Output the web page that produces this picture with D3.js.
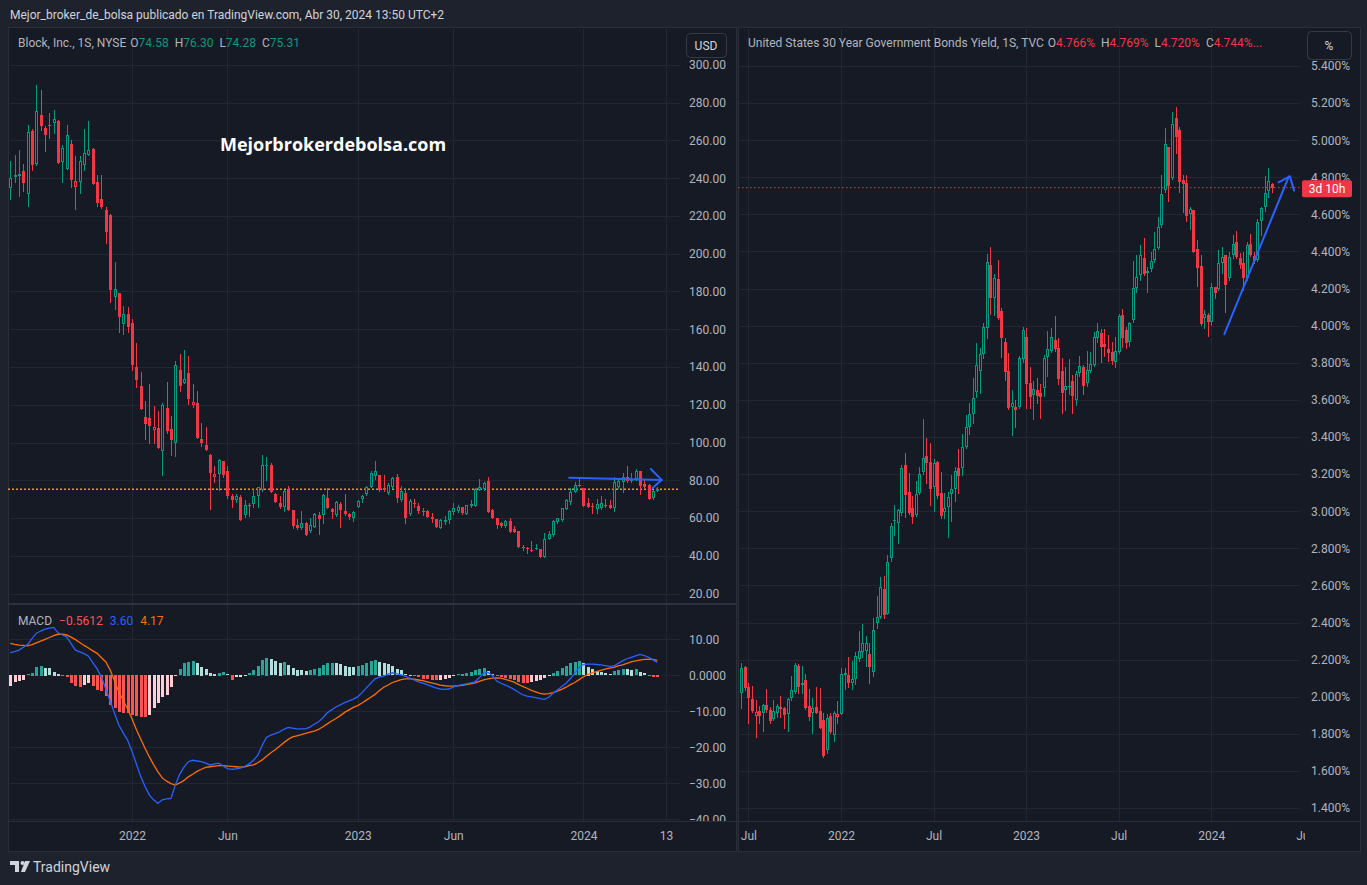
<!DOCTYPE html>
<html>
<head>
<meta charset="utf-8">
<script src="https://cdn.jsdelivr.net/npm/d3@7"></script>
<style>
  html, body { margin: 0; padding: 0; background: #1e222d; }
  svg text { font-family: Roboto, "Noto Sans", sans-serif; }
</style>
</head>
<body>
<script>
// ---- Block, Inc. weekly candles (bar 0 = week of 21 Jun 2021, bar 149 = week of 29 Apr 2024)
var blockOpen = [
  235.0,240.9,241.4,243.9,231.9,265.0,247.6,273.5,266.6,268.0,
  269.5,270.3,248.8,245.1,258.2,235.6,238.2,247.2,252.5,255.5,
  238.0,229.0,223.2,220.6,176.9,179.2,163.0,168.1,163.4,139.9,
  130.0,113.6,113.0,106.9,107.6,95.7,118.3,107.2,100.0,138.5,
  131.7,136.9,119.9,121.0,101.9,98.7,93.5,81.8,83.4,90.3,
  85.0,71.5,69.6,71.4,61.65,66.8,67.5,71.7,74.9,87.6,
  88.1,72.8,67.8,66.1,75.4,64.3,56.35,54.9,57.4,53.2,
  55.5,61.8,61.65,70.65,64.8,61.65,67.5,63.6,62.2,60.2,
  66.1,69.95,72.6,76.7,82.3,82.8,75.8,73.1,76.7,81.95,
  69.6,73.5,62.2,68.2,66.4,63.95,63.8,60.8,59.5,54.9,
  57.8,59.0,63.2,63.95,65.7,62.2,66.6,66.6,74.9,75.4,
  79.7,64.3,59.9,57.2,56.0,58.5,54.06,53.2,44.9,44.2,
  43.3,43.65,43.5,39.6,48.8,51.1,57.8,59.0,65.0,68.4,
  74.0,77.2,76.0,68.0,66.4,64.8,65.2,66.95,66.95,65.2,
  76.7,79.3,81.8,79.7,80.5,85.0,78.1,77.4,70.5,74.58
];
var blockHigh = [
  249.2,252.2,255.0,247.6,268.2,266.1,289.4,286.8,267.7,274.6,
  276.2,270.9,257.6,268.2,260.3,251.8,251.8,266.1,270.3,256.1,
  241.8,241.8,224.8,221.1,195.7,179.2,172.4,171.8,165.5,152.8,
  137.4,122.0,131.0,119.4,116.7,121.0,132.1,114.1,143.2,147.0,
  149.1,145.9,131.0,127.3,110.2,108.3,94.0,87.6,91.5,90.4,
  87.6,73.0,72.5,72.0,69.6,67.8,75.8,76.7,93.4,92.5,
  89.0,73.1,71.7,74.9,77.0,64.3,59.5,63.6,57.95,59.9,
  62.5,63.4,72.8,75.8,65.2,68.9,68.4,72.8,62.9,63.95,
  69.6,72.4,77.0,85.1,90.2,82.8,82.8,78.4,81.95,83.2,
  77.0,76.0,70.3,69.95,67.8,65.2,64.3,62.5,59.5,59.7,
  61.3,64.3,67.8,66.95,66.1,67.1,69.6,75.8,80.5,79.3,
  81.95,64.65,60.2,58.1,59.0,59.9,55.8,53.35,45.8,44.5,
  48.1,46.3,43.8,52.3,53.35,59.0,60.2,65.5,69.95,75.8,
  79.3,81.1,76.0,70.5,67.8,69.95,71.7,69.95,69.6,81.6,
  81.1,84.1,87.6,84.1,85.9,85.0,80.2,77.9,74.9,76.30
];
var blockLow = [
  229.0,238.2,230.8,233.3,225.3,244.4,247.0,265.6,254.5,261.5,
  264.2,247.8,238.2,245.1,235.6,223.6,232.4,244.6,252.5,237.2,
  225.3,224.4,205.7,174.6,170.9,158.8,157.7,158.8,138.6,129.6,
  118.0,102.1,100.0,100.0,97.3,82.8,104.9,93.6,93.1,127.3,
  131.7,120.5,119.0,102.6,97.9,96.3,65.0,79.3,74.9,82.0,
  70.5,66.0,68.5,59.0,60.8,61.3,66.1,66.1,74.5,80.2,
  74.0,68.4,65.5,63.95,64.3,54.9,54.2,54.06,51.1,52.5,
  55.1,51.6,57.6,65.5,60.2,61.1,55.1,61.65,59.5,58.65,
  66.1,68.4,72.1,76.5,80.5,74.5,74.5,72.6,75.8,68.4,
  69.25,57.2,61.65,66.1,62.5,61.65,60.4,58.1,55.5,54.6,
  57.06,57.6,62.4,63.2,62.0,62.0,66.1,66.6,74.9,74.9,
  63.4,59.9,54.9,55.5,55.5,52.8,52.5,44.5,43.1,41.35,
  42.6,43.65,39.2,39.2,48.8,50.7,57.4,58.65,64.8,67.5,
  73.7,77.2,66.6,65.7,62.5,62.5,64.8,66.1,65.2,63.95,
  75.8,74.0,79.3,79.3,80.2,72.8,76.3,69.95,70.1,74.28
];
var blockClose = [
  240.0,241.8,242.3,237.7,264.3,247.0,275.5,267.7,262.9,268.4,
  271.4,247.8,255.9,262.7,239.3,238.4,249.2,253.2,255.0,237.2,
  226.9,224.8,211.7,180.8,181.2,166.7,167.9,161.4,141.1,133.3,
  118.0,110.0,109.0,108.3,97.3,119.7,106.2,101.6,141.1,130.2,
  133.7,123.1,121.5,102.6,99.5,96.3,84.1,83.4,91.0,82.8,
  71.7,69.5,71.5,59.0,66.95,66.4,71.7,76.3,88.1,88.1,
  74.0,68.7,66.1,74.5,64.3,55.8,54.9,57.4,51.1,56.35,
  62.2,59.5,72.25,65.5,63.4,68.4,64.3,62.2,60.6,63.2,
  69.1,71.9,76.7,83.7,85.0,74.9,74.7,77.5,81.4,70.8,
  74.4,60.06,69.1,67.5,63.95,63.2,60.8,59.35,55.5,59.0,
  59.0,63.8,65.2,66.1,62.9,66.95,67.5,75.4,76.7,78.4,
  63.4,60.2,56.35,55.8,58.5,52.8,52.7,44.5,44.0,43.7,
  42.9,44.0,39.6,48.8,51.6,58.5,59.9,65.2,69.6,74.0,
  77.5,77.5,66.6,66.1,65.9,67.65,67.8,66.6,65.5,78.95,
  79.7,81.95,79.8,80.2,85.0,77.2,76.7,70.3,74.5,75.31
];

// ---- MACD (12, 26, 9) on the Block weekly chart
var macdLine = [
  6.3,6.6,7.0,7.8,8.6,10.2,11.7,12.3,12.8,13.1,
  13.3,11.8,11.2,10.7,8.8,7.0,6.5,6.0,5.3,3.5,
  1.8,-0.5,-3.8,-7.2,-10.5,-13.8,-16.0,-18.0,-21.0,-24.5,
  -28.0,-30.8,-33.2,-34.6,-35.6,-34.6,-34.3,-34.2,-30.5,-27.5,
  -25.5,-24.0,-23.6,-23.8,-24.0,-24.4,-24.9,-24.6,-24.4,-25.2,
  -25.9,-26.1,-26.0,-25.8,-25.3,-24.6,-23.6,-22.2,-19.5,-17.2,
  -16.6,-16.2,-15.7,-15.0,-14.5,-14.7,-14.9,-14.9,-14.9,-14.4,
  -13.6,-12.9,-11.8,-10.4,-9.6,-8.8,-8.2,-7.6,-7.1,-6.6,
  -6.0,-4.8,-3.5,-2.2,-1.0,-0.5,-0.2,0.3,0.7,0.4,
  0.1,-0.3,-0.8,-1.3,-1.8,-2.2,-2.6,-3.1,-3.5,-3.8,
  -3.9,-3.8,-3.3,-2.9,-2.6,-2.4,-2.1,-1.8,-0.7,0.6,
  0.8,0.0,-1.6,-2.2,-2.7,-3.3,-3.9,-4.7,-5.4,-5.8,
  -6.0,-6.2,-6.5,-6.7,-6.1,-5.0,-4.1,-3.1,-2.2,-0.9,
  0.6,2.2,3.0,3.1,3.1,3.0,2.9,2.7,2.5,2.6,
  3.3,4.0,4.6,5.0,5.4,5.8,5.5,5.0,4.3,3.60
];
var signalLine = [
  8.9,8.6,8.4,8.3,8.2,8.5,9.0,9.5,10.0,10.5,
  11.0,11.4,11.4,11.2,10.6,9.9,9.1,8.3,7.6,6.8,
  6.1,4.9,3.7,1.5,-1.5,-4.6,-7.0,-9.3,-12.0,-15.0,
  -17.6,-20.2,-22.6,-24.8,-26.8,-28.5,-29.4,-30.1,-30.5,-29.9,
  -29.2,-28.2,-27.5,-26.7,-26.1,-25.6,-25.4,-25.2,-25.1,-25.1,
  -25.2,-25.3,-25.4,-25.5,-25.4,-25.1,-24.9,-24.3,-23.5,-22.5,
  -21.5,-20.7,-19.7,-18.7,-17.8,-17.1,-16.8,-16.5,-16.1,-15.8,
  -15.5,-15.0,-14.3,-13.5,-12.7,-12.0,-11.2,-10.3,-9.6,-8.9,
  -8.4,-7.7,-6.9,-6.1,-5.3,-4.2,-3.3,-2.7,-2.0,-1.6,
  -1.2,-1.0,-1.0,-1.1,-1.3,-1.5,-1.8,-2.1,-2.4,-2.7,
  -2.9,-3.0,-3.0,-2.9,-2.8,-2.6,-2.4,-2.1,-1.7,-1.3,
  -1.0,-0.8,-0.7,-0.8,-1.1,-1.5,-1.9,-2.5,-3.1,-3.6,
  -4.2,-4.6,-5.0,-5.2,-5.1,-4.8,-4.4,-3.9,-3.3,-2.6,
  -2.0,-1.2,-0.4,0.2,0.7,1.0,1.4,1.7,2.0,2.2,
  2.6,2.9,3.3,3.7,4.0,4.2,4.4,4.4,4.4,4.17
];
var macdHist = [
  -3.1,-2.0,-1.6,-1.3,0.4,0.7,2.4,2.7,2.1,1.9,
  1.0,0.5,-0.2,-0.6,-2.2,-3.1,-3.2,-2.9,-2.2,-3.1,
  -4.1,-4.5,-5.9,-8.2,-9.1,-10.4,-10.5,-10.6,-11.0,-11.5,
  -11.55,-11.6,-11.0,-9.1,-7.7,-6.2,-5.5,-3.3,-0.4,1.8,
  3.5,3.8,4.0,3.3,2.4,1.8,0.7,0.5,0.7,0.8,
  0.4,-1.3,-0.6,-0.5,-0.3,0.6,1.4,2.7,4.3,4.9,
  4.5,4.0,3.5,3.6,2.9,1.9,1.6,1.4,1.1,1.4,
  1.8,2.1,2.9,3.3,3.35,3.3,3.1,2.7,2.4,2.2,
  2.7,2.9,3.5,4.0,4.3,3.8,3.3,3.1,2.6,1.8,
  1.4,0.4,0.2,-0.3,-0.6,-1.0,-1.2,-1.4,-1.5,-1.4,
  -1.1,-0.8,-0.4,0.4,0.5,0.7,1.0,1.4,1.8,2.1,
  1.2,0.4,-0.3,-0.6,-0.8,-1.1,-1.5,-2.0,-2.2,-2.3,
  -2.0,-1.8,-1.3,-0.9,-0.4,0.7,1.3,1.9,2.7,3.3,
  3.6,4.0,3.3,2.4,1.8,1.2,0.8,0.6,0.4,1.2,
  1.5,1.7,1.65,1.6,1.7,1.0,0.6,-0.4,-0.5,-0.5612
];

// ---- US 30Y government bond yield, weekly candles (%), same weeks
var ustOpen = [
  2.018,2.162,2.054,1.988,1.898,1.923,1.910,1.955,1.928,1.878,
  1.914,1.945,1.937,1.907,1.991,2.027,2.167,2.061,2.090,1.950,
  1.910,1.943,1.923,1.874,1.713,1.896,1.794,1.892,1.905,2.117,
  2.117,2.076,2.094,2.202,2.243,2.248,2.230,2.135,2.396,2.428,
  2.581,2.444,2.746,2.949,2.935,2.989,3.249,3.102,3.019,2.980,
  3.100,3.213,3.298,3.263,3.132,3.267,3.096,2.998,3.024,3.091,
  3.118,3.231,3.231,3.344,3.456,3.522,3.644,3.758,3.846,3.986,
  4.327,4.148,4.252,4.079,3.914,3.756,3.564,3.564,3.560,3.820,
  3.941,3.693,3.626,3.653,3.639,3.666,3.830,3.866,3.923,3.878,
  3.756,3.653,3.672,3.702,3.600,3.747,3.779,3.693,3.758,3.788,
  3.932,3.962,3.901,3.874,3.856,3.803,3.860,4.058,3.977,3.914,
  4.031,4.205,4.273,4.367,4.282,4.306,4.354,4.421,4.543,4.732,
  4.965,4.798,5.121,5.055,4.785,4.767,4.602,4.624,4.414,4.322,
  4.044,4.058,4.022,4.207,4.196,4.336,4.381,4.255,4.381,4.453,
  4.367,4.336,4.255,4.441,4.376,4.354,4.566,4.642,4.726,4.766
];
var ustHigh = [
  2.180,2.167,2.072,2.058,1.982,1.950,1.961,2.040,1.946,1.982,
  1.959,2.004,1.946,1.995,2.112,2.184,2.176,2.166,2.122,2.040,
  1.991,2.051,2.045,1.910,1.905,1.910,1.925,1.977,2.153,2.153,
  2.216,2.193,2.243,2.354,2.392,2.327,2.291,2.423,2.543,2.647,
  2.651,2.764,2.935,3.033,3.012,3.249,3.316,3.208,3.082,3.165,
  3.240,3.495,3.395,3.366,3.280,3.271,3.210,3.096,3.105,3.195,
  3.236,3.335,3.416,3.519,3.582,3.718,3.905,3.878,4.013,4.387,
  4.422,4.279,4.354,4.094,3.932,3.851,3.653,3.600,3.837,3.991,
  3.986,3.779,3.704,3.716,3.686,3.842,3.971,3.986,4.052,3.932,
  3.824,3.775,3.819,3.734,3.758,3.837,3.788,3.865,3.860,3.968,
  4.016,3.982,3.982,3.950,3.910,3.937,4.063,4.090,3.995,4.022,
  4.349,4.381,4.435,4.475,4.318,4.399,4.507,4.588,4.813,5.064,
  4.965,5.150,5.177,5.070,4.812,4.812,4.640,4.624,4.462,4.381,
  4.084,4.067,4.232,4.207,4.408,4.426,4.381,4.399,4.489,4.510,
  4.390,4.399,4.453,4.493,4.399,4.575,4.638,4.809,4.848,4.769
];
var ustLow = [
  1.937,2.036,1.860,1.919,1.785,1.860,1.817,1.919,1.860,1.874,
  1.892,1.892,1.830,1.817,1.982,2.022,2.018,2.018,1.932,1.874,
  1.803,1.910,1.830,1.677,1.698,1.806,1.763,1.860,1.905,2.040,
  2.054,2.040,2.069,2.194,2.216,2.166,2.076,2.112,2.369,2.423,
  2.423,2.444,2.733,2.872,2.830,2.980,2.967,2.985,2.935,2.974,
  3.093,3.201,3.154,3.033,3.003,3.069,2.962,2.962,2.863,2.947,
  3.057,3.096,3.195,3.339,3.416,3.477,3.617,3.639,3.824,3.932,
  4.061,4.058,4.034,3.833,3.707,3.551,3.411,3.456,3.555,3.802,
  3.555,3.555,3.497,3.582,3.504,3.623,3.731,3.856,3.866,3.686,
  3.531,3.546,3.632,3.531,3.573,3.729,3.632,3.675,3.752,3.783,
  3.914,3.806,3.837,3.812,3.792,3.776,3.855,3.887,3.880,3.890,
  4.022,4.183,4.246,4.273,4.183,4.296,4.345,4.414,4.534,4.723,
  4.672,4.790,4.930,4.723,4.615,4.564,4.520,4.396,4.216,4.004,
  3.986,3.946,4.004,4.151,4.192,4.286,4.072,4.246,4.363,4.363,
  4.309,4.192,4.246,4.376,4.336,4.351,4.489,4.620,4.696,4.720
];
var ustClose = [
  2.153,2.045,1.991,1.923,1.915,1.898,1.955,1.928,1.871,1.923,
  1.950,1.934,1.901,1.988,2.036,2.171,2.051,2.072,1.937,1.892,
  1.937,1.910,1.830,1.680,1.883,1.812,1.910,1.905,2.122,2.130,
  2.076,2.096,2.219,2.248,2.288,2.290,2.158,2.360,2.428,2.590,
  2.441,2.724,2.920,2.953,3.007,3.231,3.087,2.992,2.971,3.091,
  3.201,3.285,3.262,3.118,3.258,3.084,2.976,3.016,3.078,3.118,
  3.217,3.192,3.348,3.452,3.524,3.608,3.788,3.847,3.995,4.342,
  4.151,4.255,4.040,3.932,3.752,3.555,3.585,3.546,3.828,3.977,
  3.686,3.614,3.657,3.621,3.617,3.824,3.873,3.937,3.873,3.713,
  3.635,3.675,3.677,3.623,3.740,3.783,3.675,3.761,3.794,3.941,
  3.971,3.887,3.883,3.851,3.812,3.865,4.052,3.932,3.905,4.013,
  4.205,4.264,4.381,4.279,4.296,4.349,4.414,4.530,4.708,4.978,
  4.755,5.086,5.019,4.773,4.764,4.593,4.629,4.396,4.309,4.007,
  4.064,4.022,4.207,4.178,4.336,4.372,4.219,4.372,4.441,4.372,
  4.327,4.255,4.435,4.381,4.351,4.561,4.633,4.714,4.780,4.744
];

// ---- axis ticks and time labels (bar index -> label)
var priceTicksLeft = [20, 40, 60, 80, 100, 120, 140, 160, 180, 200, 220, 240, 260, 280, 300];
var macdTicks = [10, 0, -10, -20, -30, -40];
var yieldTicks = [1.4, 1.6, 1.8, 2.0, 2.2, 2.4, 2.6, 2.8, 3.0, 3.2, 3.4, 3.6, 3.8, 4.0, 4.2, 4.4, 4.6, 4.8, 5.0, 5.2, 5.4];
var timeTicksLeft = [28, 50, 80, 102, 132, 151];
var timeLabelsLeft = ["2022", "Jun", "2023", "Jun", "2024", "13"];
var timeTicksRight = [2, 28, 54, 80, 106, 132, 158];
var timeLabelsRight = ["Jul", "2022", "Jul", "2023", "Jul", "2024", "Jul"];

// hand drawn blue arrows, in [bar index, value]
var arrowLeftLine = [[128.7, 81.4], [150.0, 80.2]];
var arrowLeftHead = [[147.5, 86.0], [150.0, 80.2], [147.9, 75.9]];
var arrowRightLine = [[135.7, 3.954], [153.8, 4.804]];
var arrowRightHead = [[150.9, 4.773], [154.1, 4.805], [155.3, 4.728]];

// ---- colours
var GREEN = "#089981", RED = "#f23645", PANE = "#161a25", OUTER = "#1e222d",
    GRID = "#232733", BORDER = "#2a2e39", TEXT = "#b2b5be", BLUE = "#2962ff", ORANGE = "#ff6d00";

var width = 1367, height = 885;
var svg = d3.select("body").append("svg").attr("width", width).attr("height", height);
var defs = svg.append("defs");
function clipRect(id, x, y, w, h) {
    defs.append("clipPath").attr("id", id).append("rect")
        .attr("x", x).attr("y", y).attr("width", w).attr("height", h);
}

svg.append("rect").attr("width", width).attr("height", height).attr("fill", OUTER);
svg.append("text").attr("x", 10).attr("y", 19).attr("fill", "#d1d4dc").attr("font-size", "12px")
    .text("Mejor_broker_de_bolsa publicado en TradingView.com, Abr 30, 2024 13:50 UTC+2");

// pane geometry
var L = {left: 8, right: 736, plotRight: 680, top: 27, priceBottom: 603, macdTop: 605, macdBottom: 821, bottom: 851};
var R = {left: 738, right: 1360, plotRight: 1300, top: 27, plotBottom: 821, bottom: 851};

[L, R].forEach(function (p) {
    svg.append("rect").attr("x", p.left + 0.5).attr("y", p.top + 0.5)
        .attr("width", p.right - p.left).attr("height", p.bottom - p.top)
        .attr("fill", PANE).attr("stroke", BORDER);
});

// scales
var xL = d3.scaleLinear().domain([0, 149]).range([10.3, 657.3]);
var yL = d3.scaleLinear().domain([15.0, 320.1]).range([L.priceBottom, L.top]);
var yM = d3.scaleLinear().domain([-40.47, 19.53]).range([L.macdBottom, L.macdTop]);
var xR = d3.scaleLinear().domain([0, 149]).range([741.3, 1271.7]);
var yR = d3.scaleLinear().domain([1.330, 5.610]).range([R.plotBottom, R.top]);

clipRect("clipL", L.left, L.top, L.plotRight - L.left, L.priceBottom - L.top);
clipRect("clipM", L.left, L.macdTop, L.plotRight - L.left, L.macdBottom - L.macdTop);
clipRect("clipR", R.left, R.top, R.plotRight - R.left, R.plotBottom - R.top);
clipRect("clipTL", L.left, L.macdBottom, L.plotRight - L.left + 8, L.bottom - L.macdBottom);
clipRect("clipTR", R.left, R.plotBottom, R.plotRight - R.left + 5, R.bottom - R.plotBottom);
clipRect("clipAM", L.plotRight, L.macdTop, L.right - L.plotRight, L.macdBottom - L.macdTop);

// grid
var grid = svg.append("g").attr("stroke", GRID).attr("shape-rendering", "crispEdges");
timeTicksLeft.forEach(function (t) {
    grid.append("line").attr("x1", Math.round(xL(t)) + 0.5).attr("x2", Math.round(xL(t)) + 0.5)
        .attr("y1", L.top).attr("y2", L.macdBottom);
});
priceTicksLeft.forEach(function (v) {
    grid.append("line").attr("x1", L.left).attr("x2", L.plotRight)
        .attr("y1", Math.round(yL(v)) + 0.5).attr("y2", Math.round(yL(v)) + 0.5);
});
macdTicks.forEach(function (v) {
    grid.append("line").attr("x1", L.left).attr("x2", L.plotRight)
        .attr("y1", Math.round(yM(v)) + 0.5).attr("y2", Math.round(yM(v)) + 0.5);
});
timeTicksRight.filter(function (t) { return xR(t) < R.plotRight; }).forEach(function (t) {
    grid.append("line").attr("x1", Math.round(xR(t)) + 0.5).attr("x2", Math.round(xR(t)) + 0.5)
        .attr("y1", R.top).attr("y2", R.plotBottom);
});
yieldTicks.forEach(function (v) {
    grid.append("line").attr("x1", R.left).attr("x2", R.plotRight)
        .attr("y1", Math.round(yR(v)) + 0.5).attr("y2", Math.round(yR(v)) + 0.5);
});

// separators
svg.append("line").attr("x1", L.left).attr("x2", L.right).attr("y1", 604).attr("y2", 604)
    .attr("stroke", "#2e3240").attr("stroke-width", 2);
[L, R].forEach(function (p) {
    svg.append("line").attr("x1", p.left).attr("x2", p.right)
        .attr("y1", (p.macdBottom || p.plotBottom) + 0.5).attr("y2", (p.macdBottom || p.plotBottom) + 0.5)
        .attr("stroke", BORDER);
});

// watermark
svg.append("text").attr("x", 333).attr("y", 151).attr("text-anchor", "middle")
    .attr("fill", "#ffffff").attr("font-size", "18px").attr("font-weight", "bold")
    .style("font-family", "'Open Sans', sans-serif")
    .text("Mejorbrokerdebolsa.com");

// hollow candles: colour vs previous close, hollow when close > open
function drawCandles(g, x, y, o, h, l, c) {
    var idx = c.map(function (d, i) { return i; });
    g.attr("shape-rendering", "crispEdges");
    var bar = g.selectAll("g.bar").data(idx).enter().append("g").attr("class", "bar");
    bar.each(function (i) {
        var up = i === 0 ? c[i] >= o[i] : c[i] >= c[i - 1];
        var col = up ? GREEN : RED;
        var cx = Math.round(x(i));
        var sel = d3.select(this);
        sel.append("line")
            .attr("x1", cx + 0.5).attr("x2", cx + 0.5)
            .attr("y1", Math.round(y(h[i]))).attr("y2", Math.round(y(l[i])) + 1)
            .attr("stroke", col);
        var top = Math.round(y(Math.max(o[i], c[i])));
        var bot = Math.round(y(Math.min(o[i], c[i])));
        var bh = Math.max(1, bot - top);
        if (c[i] > o[i] && bh >= 3) {
            sel.append("rect").attr("x", cx - 0.5).attr("y", top + 0.5)
                .attr("width", 2).attr("height", bh - 1)
                .attr("fill", PANE).attr("stroke", col);
        } else {
            sel.append("rect").attr("x", cx - 1).attr("y", top)
                .attr("width", 3).attr("height", bh).attr("fill", col);
        }
    });
}

// current price lines
svg.append("line").attr("x1", L.left).attr("x2", L.plotRight)
    .attr("y1", yL(blockClose[149])).attr("y2", yL(blockClose[149]))
    .attr("stroke", "#ff9800").attr("stroke-width", 1.5).attr("stroke-dasharray", "2,2");
svg.append("line").attr("x1", R.left).attr("x2", R.plotRight)
    .attr("y1", yR(ustClose[149])).attr("y2", yR(ustClose[149]))
    .attr("stroke", RED).attr("stroke-width", 1).attr("stroke-dasharray", "1.5,2.5");

drawCandles(svg.append("g").attr("clip-path", "url(#clipL)"), xL, yL, blockOpen, blockHigh, blockLow, blockClose);
drawCandles(svg.append("g").attr("clip-path", "url(#clipR)"), xR, yR, ustOpen, ustHigh, ustLow, ustClose);

// MACD histogram + lines
var gM = svg.append("g").attr("clip-path", "url(#clipM)");
gM.append("g").attr("shape-rendering", "crispEdges").selectAll("rect")
    .data(macdHist).enter().append("rect")
    .attr("x", function (d, i) { return Math.round(xL(i)) - 1; })
    .attr("width", 3)
    .attr("y", function (d) { return Math.round(Math.min(yM(0), yM(d))); })
    .attr("height", function (d) { return Math.max(1, Math.round(Math.abs(yM(d) - yM(0)))); })
    .attr("fill", function (d, i) {
        var prev = i ? macdHist[i - 1] : -Infinity;
        if (d >= 0) return d > prev ? "#26a69a" : "#b2dfdb";
        return d > prev ? "#ffcdd2" : "#ff5252";
    });
var lineM = d3.line().x(function (d, i) { return xL(i); }).y(function (d) { return yM(d); });
gM.append("path").datum(signalLine).attr("d", lineM).attr("fill", "none")
    .attr("stroke", ORANGE).attr("stroke-width", 1.3);
gM.append("path").datum(macdLine).attr("d", lineM).attr("fill", "none")
    .attr("stroke", BLUE).attr("stroke-width", 1.3);

// blue drawings
function drawPath(pts, x, y) {
    svg.append("path")
        .attr("d", d3.line().x(function (d) { return x(d[0]); }).y(function (d) { return y(d[1]); })(pts))
        .attr("fill", "none").attr("stroke", BLUE).attr("stroke-width", 2)
        .attr("stroke-linecap", "round").attr("stroke-linejoin", "round");
}
drawPath(arrowLeftLine, xL, yL);
drawPath(arrowLeftHead, xL, yL);
drawPath(arrowRightLine, xR, yR);
drawPath(arrowRightHead, xR, yR);

// axes (clip on an outer group so the clip stays in page coordinates)
function styleAxis(g) {
    g.select(".domain").remove();
    g.selectAll("text").attr("fill", TEXT).attr("font-size", "12px")
        .style("font-family", "Roboto, sans-serif");
}
function axisGroup(clipId, tx, ty) {
    var outer = svg.append("g");
    if (clipId) outer.attr("clip-path", "url(#" + clipId + ")");
    return outer.append("g").attr("transform", "translate(" + tx + "," + ty + ")");
}
axisGroup(null, L.plotRight, 0)
    .call(d3.axisRight(yL).tickValues(priceTicksLeft).tickSize(0).tickPadding(9)
        .tickFormat(d3.format(".2f")))
    .call(styleAxis);
axisGroup("clipAM", L.plotRight, 0)
    .call(d3.axisRight(yM).tickValues(macdTicks).tickSize(0).tickPadding(9)
        .tickFormat(function (d) { return d === 0 ? d3.format(".4f")(d) : d3.format(".2f")(d); }))
    .call(styleAxis);
axisGroup(null, R.plotRight, 0)
    .call(d3.axisRight(yR).tickValues(yieldTicks).tickSize(0).tickPadding(11)
        .tickFormat(function (d) { return d3.format(".3f")(d) + "%"; }))
    .call(styleAxis);
axisGroup("clipTL", 0, L.macdBottom)
    .call(d3.axisBottom(xL).tickValues(timeTicksLeft).tickSize(0).tickPadding(10)
        .tickFormat(function (d, i) { return timeLabelsLeft[i]; }))
    .call(styleAxis);
axisGroup("clipTR", 0, R.plotBottom)
    .call(d3.axisBottom(xR).tickValues(timeTicksRight).tickSize(0).tickPadding(10)
        .tickFormat(function (d, i) { return timeLabelsRight[i]; }))
    .call(styleAxis);

// unit boxes
function unitBox(x, y, w, h, label) {
    svg.append("rect").attr("x", x + 0.5).attr("y", y + 0.5).attr("width", w).attr("height", h)
        .attr("rx", 4).attr("fill", PANE).attr("stroke", "#363a45");
    svg.append("text").attr("x", x + w / 2).attr("y", y + h / 2 + 4.5).attr("text-anchor", "middle")
        .attr("fill", "#d1d4dc").attr("font-size", "12px").text(label);
}
unitBox(686, 33, 40, 24, "USD");
unitBox(1307, 31, 44, 28, "%");

// countdown label on the yield axis
var yLast = yR(ustClose[149]);
svg.append("rect").attr("x", 1302).attr("y", yLast - 7.5).attr("width", 50).attr("height", 17)
    .attr("rx", 2).attr("fill", RED);
svg.append("text").attr("x", 1327).attr("y", yLast + 5.5).attr("text-anchor", "middle")
    .attr("fill", "#ffffff").attr("font-size", "12px").text("3d 10h");

// legends
function legend(x, y, title, labels, values, fmt, color) {
    var t = svg.append("text").attr("x", x).attr("y", y).attr("font-size", "12px");
    t.append("tspan").attr("fill", TEXT).text(title);
    labels.forEach(function (lab, i) {
        t.append("tspan").attr("fill", TEXT).attr("dx", i ? 6 : 4).text(lab);
        t.append("tspan").attr("fill", color).text(fmt(values[i]));
    });
    return t;
}
legend(18, 47, "Block, Inc., 1S, NYSE", ["O", "H", "L", "C"],
    [blockOpen[149], blockHigh[149], blockLow[149], blockClose[149]],
    d3.format(".2f"), GREEN);
var legR = legend(748, 47, "United States 30 Year Government Bonds Yield, 1S, TVC", ["O", "H", "L", "C"],
    [ustOpen[149], ustHigh[149], ustLow[149], ustClose[149]],
    function (v) { return d3.format(".3f")(v) + "%"; }, RED);
legR.append("tspan").attr("fill", RED).text("...");

var legM = svg.append("text").attr("x", 18).attr("y", 625).attr("font-size", "12px");
legM.append("tspan").attr("fill", TEXT).text("MACD");
legM.append("tspan").attr("fill", "#ff5252").attr("dx", 7).text(d3.format(".4f")(macdHist[149]));
legM.append("tspan").attr("fill", BLUE).attr("dx", 7).text(d3.format(".2f")(macdLine[149]));
legM.append("tspan").attr("fill", ORANGE).attr("dx", 7).text(d3.format(".2f")(signalLine[149]));

// TradingView footer logo
var logo = svg.append("g").attr("fill", "#d1d4dc");
logo.append("path").attr("d", "M10,861 h9 v11 h-4 v-7 h-5 z");
logo.append("circle").attr("cx", 22.5).attr("cy", 863).attr("r", 2);
logo.append("path").attr("d", "M25,861 h5 l-5,11 h-4 z");
svg.append("text").attr("x", 33).attr("y", 872).attr("fill", "#d1d4dc").attr("font-size", "14px")
    .text("TradingView");
</script>
</body>
</html>
